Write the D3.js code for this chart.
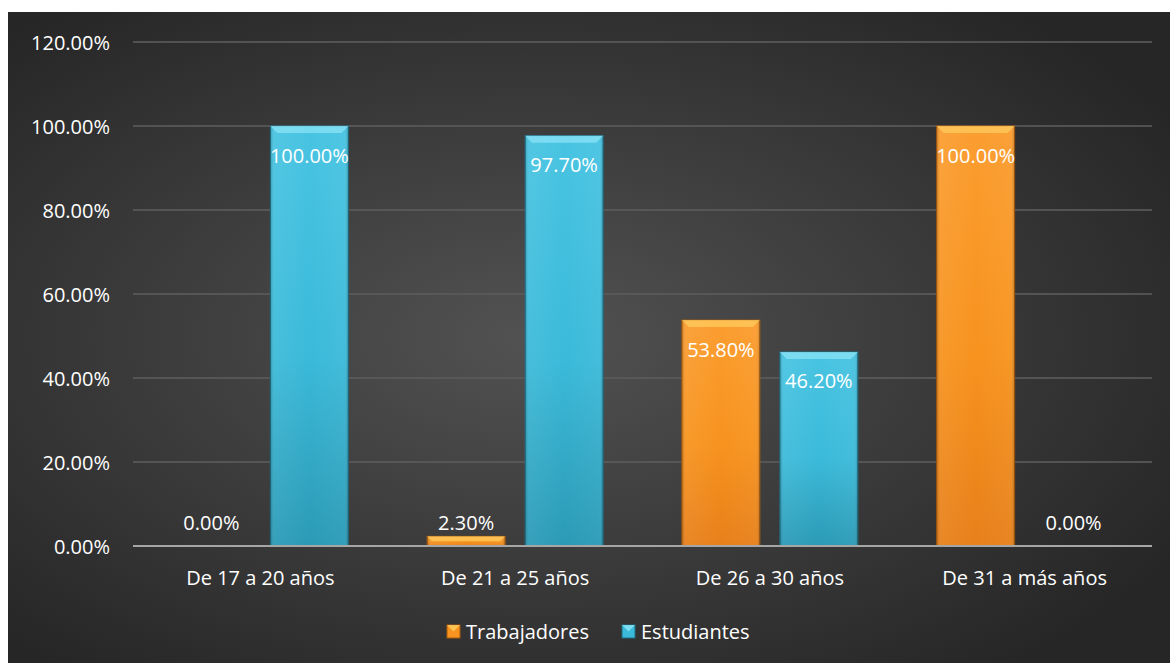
<!DOCTYPE html>
<html>
<head>
<meta charset="utf-8">
<script src="https://cdn.jsdelivr.net/npm/d3@7"></script>
<style>
  html, body { margin: 0; padding: 0; background: #ffffff; }
  svg { display: block; }
  text { font-family: "Open Sans", "Noto Sans", sans-serif; fill: #ffffff; }
</style>
</head>
<body>
<svg id="chart" width="1170" height="663"></svg>
<script>
// Age groups and the share of each group by respondent type
const categories = ["De 17 a 20 años", "De 21 a 25 años", "De 26 a 30 años", "De 31 a más años"];
const seriesNames = ["Trabajadores", "Estudiantes"];
const trabajadores = [0.0, 2.3, 53.8, 100.0];
const estudiantes = [100.0, 97.7, 46.2, 0.0];
const yTicks = [0, 20, 40, 60, 80, 100, 120];

const W = 1170, H = 663;
const FONT = 20;
const svg = d3.select("#chart");
const defs = svg.append("defs");

// dark panel with a soft lighter centre
const bg = defs.append("radialGradient").attr("id", "bgGrad")
  .attr("cx", "45%").attr("cy", "50%").attr("r", "65%");
bg.append("stop").attr("offset", "0%").attr("stop-color", "#525252");
bg.append("stop").attr("offset", "100%").attr("stop-color", "#262626");

svg.append("rect").attr("x", 8).attr("y", 12).attr("width", W - 8).attr("height", H - 12)
  .attr("fill", "url(#bgGrad)");

// bar fills: a vertical gradient plus a bevelled top edge
const palette = {
  Trabajadores: { top: "#fb9d30", mid: "#f7931e", bot: "#e7801a", light: "#ffcf60", edge: "#a95a0c" },
  Estudiantes: { top: "#48c4e2", mid: "#3bbad9", bot: "#2b9ab6", light: "#8ee6f8", edge: "#1d6f86" }
};
Object.entries(palette).forEach(([name, c], i) => {
  const g = defs.append("linearGradient").attr("id", "fill" + i)
    .attr("x1", 0).attr("y1", 0).attr("x2", 0).attr("y2", 1);
  g.append("stop").attr("offset", "0%").attr("stop-color", c.top);
  g.append("stop").attr("offset", "55%").attr("stop-color", c.mid);
  g.append("stop").attr("offset", "100%").attr("stop-color", c.bot);
  const h = defs.append("linearGradient").attr("id", "side" + i)
    .attr("x1", 0).attr("y1", 0).attr("x2", 1).attr("y2", 0);
  h.append("stop").attr("offset", "0%").attr("stop-color", "#000").attr("stop-opacity", 0.2);
  h.append("stop").attr("offset", "5%").attr("stop-color", "#fff").attr("stop-opacity", 0.06);
  h.append("stop").attr("offset", "50%").attr("stop-color", "#fff").attr("stop-opacity", 0);
  h.append("stop").attr("offset", "95%").attr("stop-color", "#fff").attr("stop-opacity", 0.04);
  h.append("stop").attr("offset", "100%").attr("stop-color", "#000").attr("stop-opacity", 0.22);
});

const plot = { left: 133, right: 1152, top: 42, bottom: 546 };

const x0 = d3.scaleBand().domain(categories).range([plot.left, plot.right]);
const x1 = d3.scaleBand().domain(seriesNames).range([-88, 88]).paddingInner(0.204).paddingOuter(0);
const y = d3.scaleLinear().domain([0, 120]).range([plot.bottom, plot.top]);

// horizontal gridlines
svg.append("g").selectAll("line").data(yTicks.filter(t => t > 0)).join("line")
  .attr("x1", plot.left).attr("x2", plot.right)
  .attr("y1", d => y(d)).attr("y2", d => y(d))
  .attr("stroke", "#5c5c5c").attr("stroke-width", 2).attr("opacity", 0.8);

// y axis labels
const yAxis = d3.axisLeft(y).tickValues(yTicks).tickFormat(d => d.toFixed(2) + "%").tickSize(0).tickPadding(0);
const yg = svg.append("g").attr("transform", `translate(110,0)`).call(yAxis);
yg.select(".domain").remove();
yg.selectAll("text").attr("font-size", FONT).attr("fill", "#ffffff")
  .attr("font-family", "'Open Sans', 'Noto Sans', sans-serif").attr("dy", "0.35em");

const rows = categories.map((c, i) => ({ cat: c, values: [trabajadores[i], estudiantes[i]] }));

const groups = svg.append("g").selectAll("g").data(rows).join("g")
  .attr("transform", d => `translate(${x0(d.cat) + x0.bandwidth() / 2},0)`);

groups.each(function (row) {
  const g = d3.select(this);
  row.values.forEach((v, si) => {
    const name = seriesNames[si];
    const c = palette[name];
    const bx = x1(name), bw = x1.bandwidth();
    const top = y(v), h = y(0) - y(v);
    if (h > 0) {
      g.append("rect").attr("x", bx).attr("y", top).attr("width", bw).attr("height", h)
        .attr("fill", `url(#fill${si})`).attr("stroke", c.edge).attr("stroke-width", 1);
      g.append("rect").attr("x", bx).attr("y", top).attr("width", bw).attr("height", h)
        .attr("fill", `url(#side${si})`);
      // bevel highlight along the top edge
      const bev = Math.min(7, h / 2);
      g.append("path")
        .attr("d", `M${bx},${top} L${bx + bw},${top} L${bx + bw - bev},${top + bev} L${bx + bev},${top + bev} Z`)
        .attr("fill", c.light).attr("opacity", 0.7);
    }
    // value label: inside the top of tall bars, above short ones
    const inside = h > 40;
    g.append("text")
      .attr("x", bx + bw / 2)
      .attr("y", inside ? top + 29 : Math.min(top - 14, y(0) - 24))
      .attr("text-anchor", "middle").attr("dominant-baseline", "central")
      .attr("font-size", FONT)
      .text(v.toFixed(2) + "%");
  });
});

// baseline
svg.append("line").attr("x1", plot.left).attr("x2", plot.right)
  .attr("y1", y(0)).attr("y2", y(0)).attr("stroke", "#a6a6a6").attr("stroke-width", 2);

// category labels
const xAxis = d3.axisBottom(x0).tickSize(0).tickPadding(0);
const xg = svg.append("g").attr("transform", `translate(0,578)`).call(xAxis);
xg.select(".domain").remove();
xg.selectAll("text").attr("font-size", FONT).attr("fill", "#ffffff")
  .attr("font-family", "'Open Sans', 'Noto Sans', sans-serif").attr("dy", "0.35em");

// legend
const legendItems = [
  { name: "Trabajadores", x: 447 },
  { name: "Estudiantes", x: 622 }
];
const lg = svg.append("g");
legendItems.forEach(it => {
  const c = palette[it.name];
  const s = 13, lx = it.x, ly = 625;
  lg.append("rect").attr("x", lx).attr("y", ly).attr("width", s).attr("height", s)
    .attr("fill", c.mid).attr("stroke", c.edge).attr("stroke-width", 1);
  lg.append("path")
    .attr("d", `M${lx},${ly} L${lx + s},${ly} L${lx + s / 2},${ly + s / 2} Z`)
    .attr("fill", c.light).attr("opacity", 0.8);
  lg.append("text").attr("x", lx + 19).attr("y", ly + s / 2)
    .attr("dominant-baseline", "central").attr("font-size", FONT).text(it.name);
});
</script>
</body>
</html>
